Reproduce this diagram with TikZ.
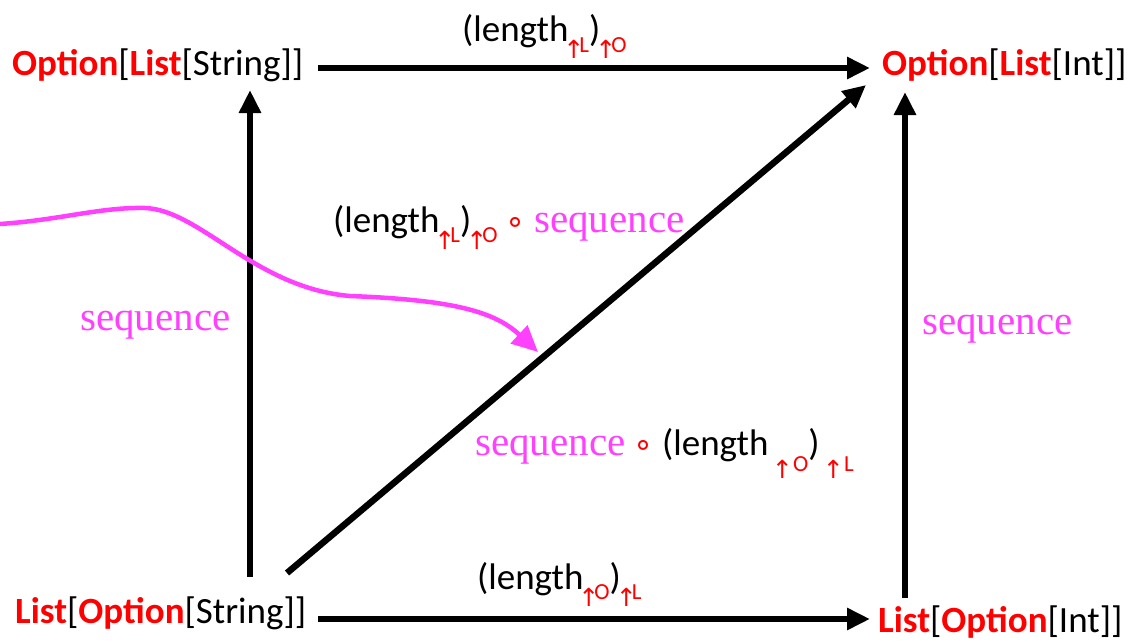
\documentclass[tikz,border=0pt]{standalone}
\usepackage{fontspec}
\setmainfont{Carlito}
\newfontfamily\seqfont{Liberation Serif}
\newfontfamily\symf{DejaVu Sans}
\usetikzlibrary{arrows.meta}
\definecolor{mag}{RGB}{255,64,255}
\definecolor{rd}{RGB}{255,0,0}
\newcommand\M{\fontsize{37}{40}\selectfont}
\newcommand\Sz{\fontsize{23}{24}\selectfont}
\newcommand\arw{\makebox[11pt][c]{\raisebox{-7pt}{{\symf\fontsize{25}{26}\selectfont ↑}}}}
\newcommand\subup[1]{\raisebox{-10pt}{\Sz\color{rd}\arw#1}}
\newcommand\subsp[1]{\raisebox{-16pt}{\Sz\color{rd}\arw\ #1}}
\newcommand\seqw{{\seqfont\fontsize{41}{42}\selectfont\color{mag}sequence}}
\newcommand\cmp{{\color{rd}\symf\fontsize{32}{32}\selectfont ∘}}
\newcommand\rb[1]{\textcolor{rd}{\textbf{#1}}}
\begin{document}
\begin{tikzpicture}[x=1pt,y=-1pt,
  lbl/.style={anchor=base west,inner sep=0pt,font=\M},
  arr/.style={line width=6.5pt,-{Triangle[length=23pt,width=21pt]}},
  marr/.style={draw=mag,line width=4.5pt,-{Triangle[length=26pt,width=24pt]}}]
\useasboundingbox[fill=white] (0,0) rectangle (1132,642);
% type nodes
\node[lbl] (tl) at (12,76) {\rb{Option}[\rb{List}[String]]};
\node[lbl] (tr) at (882,76) {\rb{Option}[\rb{List}[Int]]};
\node[lbl] (bl) at (15,623) {\rb{List}[\rb{Option}[String]]};
\node[lbl] (br) at (878,632) {\rb{List}[\rb{Option}[Int]]};
% arrows
\draw[arr] ([shift={(306,-8)}]tl.base west) -- ([shift={(-12,-8)}]tr.base west);
\draw[arr] ([shift={(303,-4)}]bl.base west) -- ([shift={(-8,-13)}]br.base west);
\draw[arr] ([shift={(235,-46)}]bl.base west) -- ([shift={(238,14)}]tl.base west);
\draw[arr] ([shift={(27,-34)}]br.base west) -- ([shift={(23,16)}]tr.base west);
\draw[arr] ([shift={(272,-50)}]bl.base west) -- ([shift={(-16,9)}]tr.base west);
% labels
\node[lbl] (ltop) at (462,42) {(length\subup{L})\subup{O}};
\node[lbl] (lbot) at (477,589) {(length\subup{O})\subup{L}};
\node[lbl] (ldiag) at (333,232) {(length\subup{L})\subup{O} \cmp\ \seqw};
\node[lbl] (ldiag2) at (475,455) {\seqw\ \cmp\ (length \subsp{O}) \subsp{L}};
\node[lbl] (lleft) at (80,330) {\seqw};
\node[lbl] (lright) at (922,334) {\seqw};
% magenta curve
\coordinate (cstart) at (0,224);
\coordinate (cend) at (538,352);
\draw[marr] (cstart) .. controls (60,220) and (100,207) .. (145,208)
  .. controls (200,210) and (255,288) .. (350,296)
  .. controls (455,300) and (495,312) .. (cend);
\end{tikzpicture}
\end{document}
